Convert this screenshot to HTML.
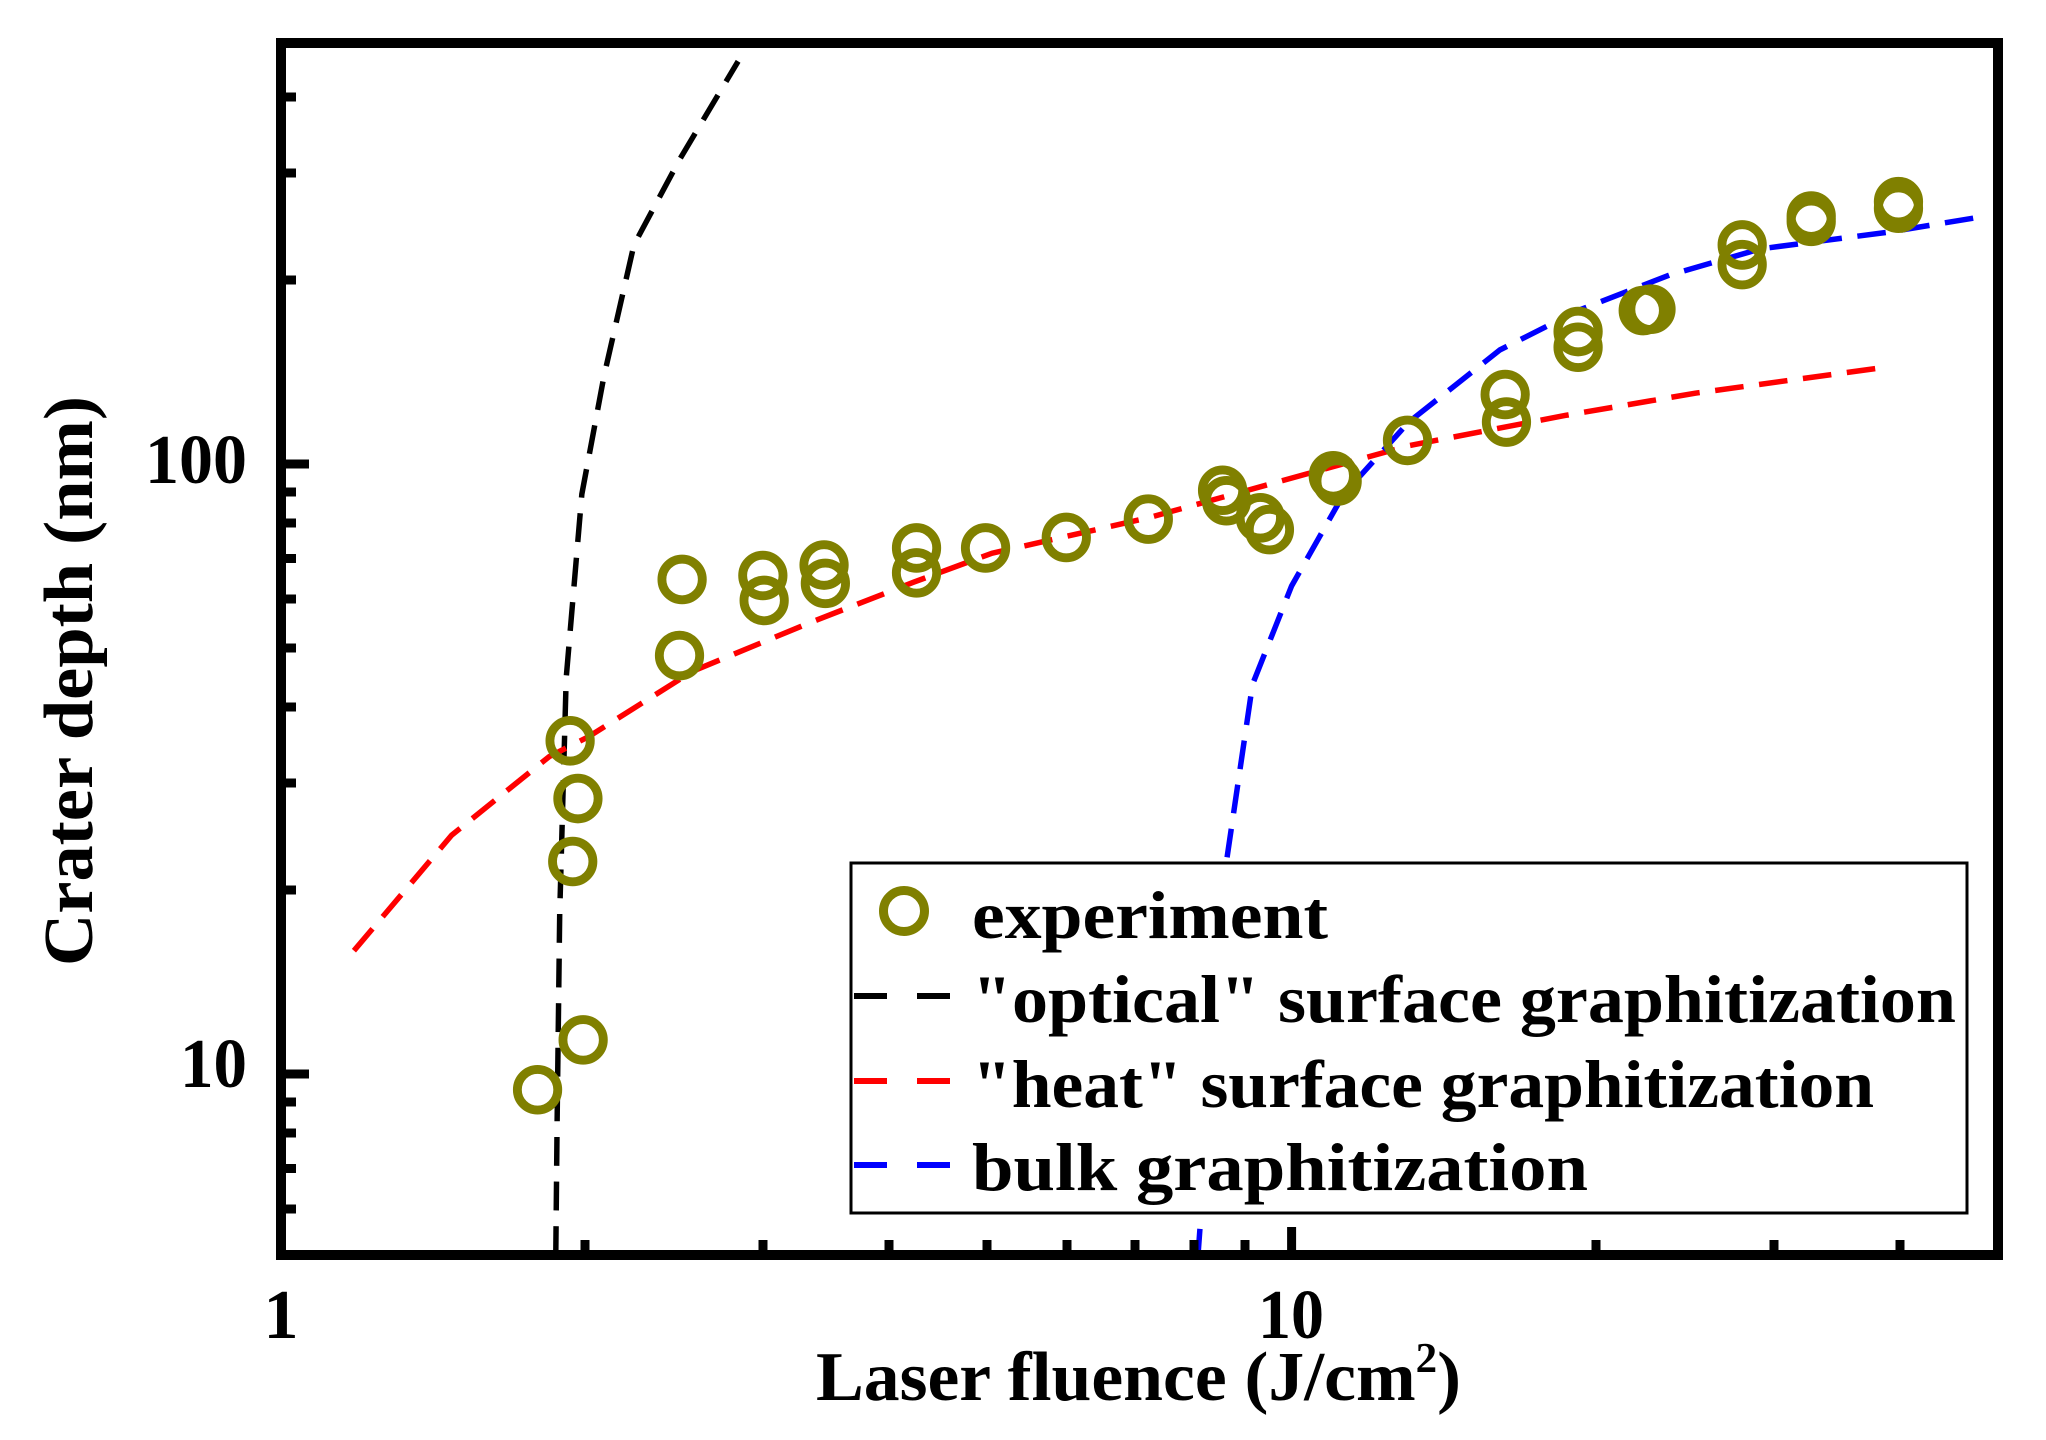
<!DOCTYPE html>
<html><head><meta charset="utf-8"><style>html,body{margin:0;padding:0;background:#fff}svg{display:block}</style></head>
<body>
<svg width="2046" height="1440" viewBox="0 0 2046 1440" xmlns="http://www.w3.org/2000/svg" font-family="Liberation Serif, serif" font-weight="bold">
<g transform="matrix(1.3023 0 0 1.3118 2.31 -4.3)">
<g fill="none" stroke-width="4.2" stroke-dasharray="22,12">
<polyline stroke="#000" points="425,960 426,860 428,700 433,520 445,380 462,290 485,190 520,125 565,50"/>
<polyline stroke="#f00" points="270,728 345,640 420,580 450,565 530,515 620,478 700,447 760,425 880,398 1000,365 1080,343 1200,320 1300,303 1440,284"/>
<polyline stroke="#00f" points="918,962 930,800 940,660 960,525 990,450 1030,380 1080,325 1150,270 1210,240 1280,213 1350,193 1450,180 1523,168"/>
</g>
<g fill="none" stroke="#808000" stroke-width="6.8">
<circle cx="411" cy="834" r="15.5"/><circle cx="446" cy="796" r="15.5"/><circle cx="438" cy="660" r="15.5"/><circle cx="442" cy="612" r="15.5"/><circle cx="436" cy="568" r="15.5"/><circle cx="520" cy="503" r="15.5"/><circle cx="522" cy="445" r="15.5"/><circle cx="584" cy="442" r="15.5"/><circle cx="585" cy="461" r="15.5"/><circle cx="631" cy="434" r="15.5"/><circle cx="632" cy="448" r="15.5"/><circle cx="702" cy="421" r="15.5"/><circle cx="702" cy="440" r="15.5"/><circle cx="755" cy="421" r="15.5"/><circle cx="817" cy="413" r="15.5"/><circle cx="880" cy="399" r="15.5"/><circle cx="937" cy="377" r="15.5"/><circle cx="940" cy="385" r="15.5"/><circle cx="966" cy="398" r="15.5"/><circle cx="973" cy="407" r="15.5"/><circle cx="1022" cy="366" r="15.5"/><circle cx="1025" cy="370" r="15.5"/><circle cx="1079" cy="339" r="15.5"/><circle cx="1154" cy="304" r="15.5"/><circle cx="1155" cy="325" r="15.5"/><circle cx="1210" cy="256" r="15.5"/><circle cx="1210" cy="268" r="15.5"/><circle cx="1260" cy="240" r="15.5"/><circle cx="1266" cy="239" r="15.5"/><circle cx="1336" cy="190" r="15.5"/><circle cx="1336" cy="205" r="15.5"/><circle cx="1389" cy="168" r="15.5"/><circle cx="1389" cy="172" r="15.5"/><circle cx="1456" cy="157" r="15.5"/><circle cx="1456" cy="162" r="15.5"/>
</g>
</g>
<rect x="281" y="43" width="1717" height="1212" fill="none" stroke="#000" stroke-width="10"/>
<g stroke="#000" stroke-width="9">
<line x1="286" y1="1074" x2="309" y2="1074"/><line x1="286" y1="464" x2="309" y2="464"/>
<line x1="286" y1="1209" x2="296" y2="1209"/><line x1="286" y1="1168.5" x2="296" y2="1168.5"/><line x1="286" y1="1133" x2="296" y2="1133"/><line x1="286" y1="1102" x2="296" y2="1102"/>
<line x1="286" y1="890" x2="296" y2="890"/><line x1="286" y1="783" x2="296" y2="783"/><line x1="286" y1="707" x2="296" y2="707"/><line x1="286" y1="648" x2="296" y2="648"/><line x1="286" y1="599" x2="296" y2="599"/><line x1="286" y1="558.5" x2="296" y2="558.5"/><line x1="286" y1="523" x2="296" y2="523"/><line x1="286" y1="492" x2="296" y2="492"/>
<line x1="286" y1="280" x2="296" y2="280"/><line x1="286" y1="173" x2="296" y2="173"/><line x1="286" y1="97" x2="296" y2="97"/>
<line x1="1291.6" y1="1250" x2="1291.6" y2="1227"/>
<line x1="585" y1="1250" x2="585" y2="1240"/><line x1="763" y1="1250" x2="763" y2="1240"/><line x1="889" y1="1250" x2="889" y2="1240"/><line x1="987" y1="1250" x2="987" y2="1240"/><line x1="1067" y1="1250" x2="1067" y2="1240"/><line x1="1135" y1="1250" x2="1135" y2="1240"/><line x1="1194" y1="1250" x2="1194" y2="1240"/><line x1="1245" y1="1250" x2="1245" y2="1240"/>
<line x1="1596" y1="1250" x2="1596" y2="1240"/><line x1="1774" y1="1250" x2="1774" y2="1240"/><line x1="1900" y1="1250" x2="1900" y2="1240"/>
</g>
<g font-size="70" fill="#000">
<text x="281" y="1338" text-anchor="middle">1</text>
<text x="1291" y="1338" text-anchor="middle" textLength="66" lengthAdjust="spacingAndGlyphs">10</text>
<text x="145" y="483" textLength="102" lengthAdjust="spacingAndGlyphs">100</text>
<text x="180" y="1087" textLength="67" lengthAdjust="spacingAndGlyphs">10</text>
<text x="816" y="1400" textLength="645" lengthAdjust="spacingAndGlyphs">Laser fluence (J/cm<tspan font-size="42" dy="-28">2</tspan><tspan dy="28">)</tspan></text>
<text transform="translate(92,966) rotate(-90)" textLength="570" lengthAdjust="spacingAndGlyphs">Crater depth (nm)</text>
</g>
<rect x="851" y="863" width="1116" height="350" fill="#fff" stroke="#000" stroke-width="3"/>
<circle cx="904" cy="911" r="20.5" fill="none" stroke="#808000" stroke-width="9"/>
<g stroke-width="6" stroke-dasharray="33,30">
<line x1="854" y1="996" x2="950" y2="996" stroke="#000"/>
<line x1="854" y1="1081" x2="950" y2="1081" stroke="#f00"/>
<line x1="854" y1="1165" x2="950" y2="1165" stroke="#00f"/>
</g>
<g font-size="68" fill="#000">
<text x="972" y="938" textLength="356" lengthAdjust="spacingAndGlyphs">experiment</text>
<text x="972" y="1022" textLength="984" lengthAdjust="spacingAndGlyphs">"optical" surface graphitization</text>
<text x="972" y="1107" textLength="902" lengthAdjust="spacingAndGlyphs">"heat" surface graphitization</text>
<text x="972" y="1190" textLength="616" lengthAdjust="spacingAndGlyphs">bulk graphitization</text>
</g>
</svg>
</body></html>
